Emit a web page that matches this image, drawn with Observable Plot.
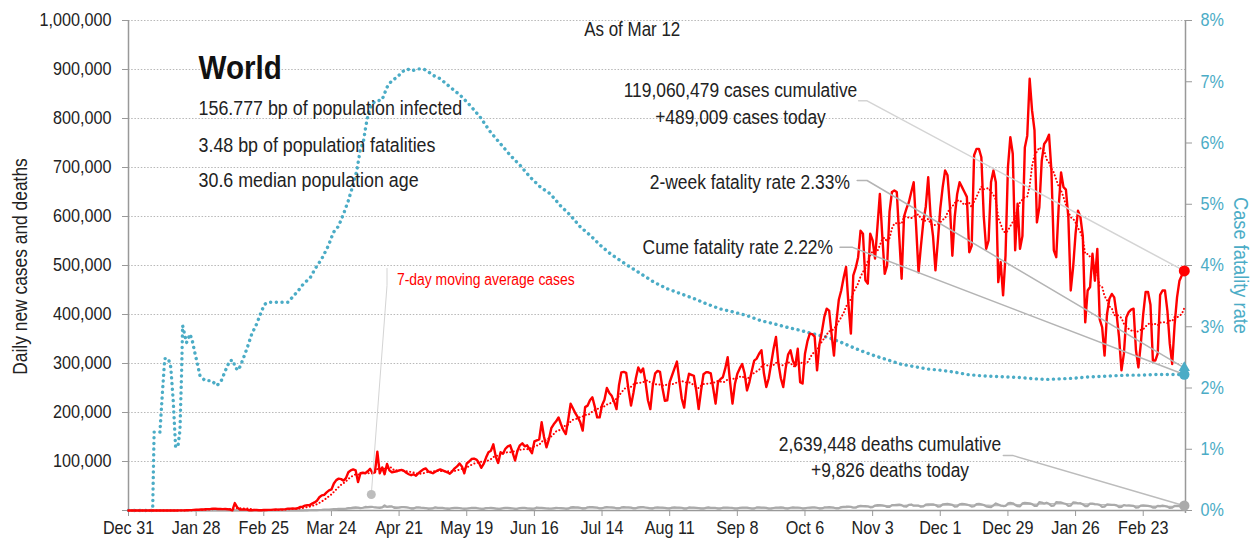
<!DOCTYPE html>
<html><head><meta charset="utf-8">
<script src="https://cdn.jsdelivr.net/npm/d3@7"></script>
<script src="https://cdn.jsdelivr.net/npm/@observablehq/plot@0.6"></script>
<style>
html,body{margin:0;padding:0;background:#fff;}
#chart svg{display:block;}
</style></head><body><div id="chart"></div>
<script>
const FONT = '"Liberation Sans",Arial,sans-serif';
const RED = "#ff0000", BLUE = "#4bacc6", GRAY = "#aaaaaa", AXIS = "#999999";

// first day of the series and the "as of" day
const startDay = "2019-12-31";
const endDay = "2021-03-12";

// daily new cases, thousands, one value per day from Dec 31 2019
const dailyCasesK = [
0.03,0,0,0.02,0,0.02,0,0,0,0,
0,0,0,0,0,0,0,0,0,0.1,
0.1,0.2,0.3,0.3,0.5,0.7,0.8,1.3,1.7,1.5,
2.0,2.1,2.6,2.8,3.2,3.9,3.7,3.2,3.4,2.7,
3.0,2.5,2.0,0.4,15.1,6.5,2.1,2.0,1.9,1.8,
0.5,0.6,1.0,1.0,0.4,0.6,0.9,0.9,1.2,1.3,
1.7,1.9,1.8,2.4,2.2,2.8,3.9,3.9,4.0,3.8,
4.5,7.2,7.5,10.0,10.8,11.0,14.0,16.5,20.0,27.0,
31,32,37,41,43,55,62,65,64,61,
66,78,82,84,82,58,76,77,76,80,
85,76,78,120,76,88,74,95,82,78,
79,80,82,83,81,77,74,72,74,71,
76,80,84,86,80,78,76,79,82,84,
82,80,78,75,80,86,90,96,90,76,
96,100,105,106,104,98,87,95,108,119,
122,135,110,97,119,116,126,131,133,118,
102,122,133,137,131,133,125,117,141,143,
145,180,150,129,145,168,176,182,190,176,
164,156,185,218,208,198,190,180,163,211,
214,225,231,212,190,190,215,226,250,240,
234,222,207,255,282,283,281,245,214,240,
270,292,282,290,262,225,207,255,280,285,
283,250,224,225,262,276,290,304,265,228,
210,255,279,277,275,245,207,245,278,282,
282,280,250,218,262,268,272,290,313,262,
218,258,279,290,299,280,245,262,285,306,
310,320,327,280,252,270,300,330,354,300,
270,252,290,318,327,305,295,330,262,259,
320,345,361,360,355,286,340,365,395,412,
408,360,316,385,430,449,475,497,420,361,
480,495,517,571,565,470,463,565,551,514,
580,646,560,483,500,610,650,653,650,560,
473,600,616,629,650,670,580,486,540,590,
620,680,600,560,490,550,616,660,694,684,
620,520,600,646,670,660,650,640,527,540,
725,738,738,721,600,534,551,670,694,670,
466,507,439,520,700,762,728,531,626,534,
560,741,765,881,816,776,588,619,714,748,
755,767,694,531,517,619,690,660,655,599,
449,497,565,612,599,560,384,449,456,524,
469,534,390,374,316,400,432,442,435,400,
354,286,320,394,405,410,412,327,292,340,
401,446,446,420,306,306,320,440,449,449,
408,340,299,380,435,469,480,489.009
];

// daily new deaths, thousands, one value per day from Dec 31 2019
const dailyDeathsK = [
0,0,0,0,0,0,0,0,0,0,
0,0,0,0,0,0,0,0,0,0,
0,0.02,0.03,0.04,0.05,0.06,0.05,0.08,0.03,0.1,
0.04,0.05,0.05,0.06,0.07,0.07,0.07,0.09,0.09,0.1,
0.09,0.11,0.1,0.1,0.25,0.14,0.14,0.1,0.1,0.1,
0.14,0.12,0.1,0.1,0.1,0.1,0.15,0.07,0.07,0.05,
0.05,0.06,0.06,0.06,0.07,0.08,0.1,0.1,0.1,0.2,
0.3,0.3,0.4,0.4,0.4,0.5,0.6,0.8,0.8,1.0,
1.1,1.7,1.7,1.9,2.4,2.7,3.1,3.4,3.6,3.4,
3.8,4.8,5.0,6.0,6.3,5.9,4.8,5.6,7.3,7.0,
7.3,7.2,6.2,5.6,5.4,6.4,10.5,7.4,8.4,8.5,
5.4,5.1,5.6,7.0,6.9,6.3,5.6,4.0,3.9,6.3,
6.6,5.8,5.4,5.0,3.5,3.6,4.4,6.6,5.5,5.4,
5.3,4.1,3.4,3.5,5.0,5.4,5.3,5.1,4.1,3.3,
3.6,4.6,5.2,5.3,5.2,4.0,3.1,3.1,5.0,5.1,
5.5,4.9,3.9,3.1,3.3,4.7,5.3,5.2,4.8,4.1,
3.1,3.5,5.0,5.2,5.4,4.5,4.0,3.3,3.6,6.2,
5.2,5.2,4.8,4.1,3.7,3.6,4.4,5.3,5.1,5.0,
4.4,3.5,3.7,6.2,6.8,6.2,6.3,5.5,3.9,4.3,
6.5,7.2,6.7,6.2,5.8,4.1,4.5,6.3,6.8,6.6,
6.3,6.0,4.2,4.2,6.2,6.8,6.4,6.3,5.9,4.4,
4.4,6.4,6.8,6.9,6.1,5.4,4.1,3.9,6.0,6.2,
6.0,5.8,5.4,4.2,4.0,5.8,6.2,5.9,5.7,5.6,
3.8,4.0,6.2,6.0,5.9,5.4,4.9,3.8,3.7,5.3,
6.4,5.5,5.4,5.2,3.8,3.9,5.7,6.1,5.9,5.6,
5.2,3.9,3.8,5.5,5.7,5.8,5.8,5.0,3.6,3.8,
6.4,6.2,6.0,5.8,5.3,3.6,3.8,5.0,6.1,5.9,
6.4,5.8,4.2,4.0,5.6,6.2,5.9,5.9,5.6,4.0,
4.4,5.6,6.0,6.3,6.3,5.6,4.0,4.1,6.3,6.4,
6.8,6.3,5.7,4.2,4.5,7.0,7.6,7.8,8.2,7.4,
5.6,5.7,8.6,9.6,9.2,9.1,8.5,6.5,7.0,10.1,
11.2,10.9,10.7,9.5,7.4,7.3,11.2,11.2,11.6,12.1,
10.9,8.2,8.1,11.6,12.3,9.8,10.1,9.9,7.6,8.2,
11.9,12.8,12.7,12.6,11.2,8.1,8.4,12.5,12.9,13.4,
12.5,11.6,7.8,8.4,12.8,13.6,13.2,12.1,10.7,7.9,
8.7,13.0,13.6,12.6,11.1,8.4,7.1,6.9,10.7,14.5,
12.4,10.0,9.1,9.4,14.5,15.5,14.8,11.3,8.9,8.5,
14.4,15.5,15.0,14.6,13.0,9.4,9.6,17.1,16.3,14.4,
15.9,13.6,9.4,9.7,17.2,16.7,16.5,14.8,13.4,9.4,
9.8,16.5,16.2,14.8,15.0,12.6,8.9,9.0,14.3,14.0,
13.0,12.8,11.5,7.2,7.9,12.3,12.1,11.4,11.4,10.4,
6.9,7.3,11.2,10.2,10.4,9.9,9.3,5.9,6.1,10.2,
10.5,10.1,9.3,8.5,5.9,6.0,9.5,9.1,9.8,9.2,
8.0,5.1,5.8,9.4,9.6,9.7,9.3,9.826
];

// cumulative case fatality rate (%), read at these day offsets from Dec 31 2019
const cfrDays = [0,10,10.6,13,14,15,16.5,17.5,18.5,19.5,20.5,21.3,22,22.4,23.2,24,25.5,26.6,27.2,28.2,29.6,31.7,34.5,36.5,38.2,40.7,42,43.4,44,45.5,46.9,49,51,53.1,55.2,56.5,58,66,70.3,72.4,75.2,77.3,80,82.8,84.8,86.9,89,91,92.9,94.5,95.9,97.3,98.3,99.3,100.7,102.8,104.9,107,109,111.1,113.2,115.2,117.3,120,122.1,124.2,126.3,129,133.2,137.3,141.5,145.6,149.8,153.9,158,162.2,166.3,170.5,174.6,178.7,182.9,187,191.2,195.3,199.5,203.6,207.8,211.9,217.4,223,228.5,234,239.5,245,250.5,256.1,261.6,267.1,272.7,278.2,283.7,289.2,294.7,298.2,303,308.5,314.1,319.6,325.1,330.7,336.2,341.7,347.2,352.7,358.2,363.8,369.3,374.8,380.4,385.9,391.4,396.9,402.4,408,413.5,419,424.5,430,437];
const cfrPct = [0,0,1.28,1.28,1.9,2.48,2.48,2.34,1.8,1.03,1.06,1.31,2.29,3.02,2.88,2.74,2.88,2.74,2.62,2.45,2.2,2.12,2.12,2.04,2.1,2.34,2.45,2.45,2.34,2.29,2.42,2.64,2.88,3.05,3.27,3.37,3.4,3.4,3.59,3.7,3.8,3.95,4.11,4.33,4.54,4.64,4.84,5.06,5.31,5.55,5.88,6.04,6.29,6.48,6.64,6.69,6.7,6.91,7.02,7.07,7.16,7.21,7.18,7.21,7.21,7.16,7.1,7.05,6.91,6.78,6.61,6.42,6.18,5.99,5.8,5.63,5.44,5.28,5.17,4.98,4.82,4.63,4.49,4.33,4.19,4.08,3.97,3.87,3.73,3.62,3.54,3.46,3.37,3.29,3.24,3.18,3.1,3.05,2.99,2.94,2.88,2.83,2.75,2.69,2.61,2.53,2.46,2.39,2.35,2.31,2.29,2.26,2.22,2.2,2.19,2.18,2.17,2.15,2.14,2.15,2.16,2.18,2.19,2.2,2.21,2.21,2.22,2.22,2.22];

const twoWeekFatalityPct = 2.33;
const cumeFatalityPct = 2.22;

// axes
const leftTicks = [0,100000,200000,300000,400000,500000,600000,700000,800000,900000,1000000];
const rightTicksPct = [0,1,2,3,4,5,6,7,8];
const xTickStepDays = 28;

// texts
const titleText = "World";
const statLines = ["156.777 bp of population infected","3.48 bp of population fatalities","30.6 median population age"];
const asOfText = "As of Mar 12";
const casesNote = "119,060,479 cases cumulative\n+489,009 cases today";
const deathsNote = "2,639,448 deaths cumulative\n+9,826 deaths today";
const twoWeekNote = "2-week fatality rate 2.33%";
const cumeNote = "Cume fatality rate 2.22%";
const maNote = "7-day moving average cases";
const leftTitle = "Daily new cases and deaths";
const rightTitle = "Case fatality rate";

// ---------- build ----------
const DAY = 864e5;
const day0 = new Date(startDay + "T00:00:00Z");
const dateOf = d => new Date(day0.getTime() + d * DAY);
const PCT = 1e6 / 8; // 8% at top of left scale

const cases = dailyCasesK.map((v, i) => ({date: dateOf(i), v: v * 1000}));
const deaths = dailyDeathsK.map((v, i) => ({date: dateOf(i), v: v * 1000}));
const ma = (arr) => arr.map((r, i) => ({date: r.date, v: d3.mean(arr.slice(Math.max(0, i - 6), i + 1), d => d.v)}));
const casesMA = ma(cases);
const deathsMA = ma(deaths);
const cfr = cfrDays.map((d, i) => ({date: dateOf(d), v: cfrPct[i] * PCT}));
const lastCase = cases[cases.length - 1];
const lastDeath = deaths[deaths.length - 1];
const lastDate = lastCase.date;
const xEnd = new Date(new Date(endDay + "T00:00:00Z").getTime() + DAY / 2);
const xTicks = d3.range(0, (lastDate - day0) / DAY + 1, xTickStepDays).map(dateOf);

const leader = (pts) => pts.map(([d, v]) => ({date: d instanceof Date ? d : dateOf(d), v}));
const casesLeader = leader([[302.2, 836000], [305.7, 836000], [lastDate, lastCase.v]]);
const twoWeekLeader = leader([[301.6, 673500], [305.7, 673500], [lastDate, twoWeekFatalityPct * PCT]]);
const cumeLeader = leader([[294.5, 537000], [299.7, 537000], [lastDate, cumeFatalityPct * PCT]]);
const deathsLeader = leader([[362.1, 112000], [366.2, 112000], [lastDate, lastDeath.v]]);
const maLeader = leader([[107, 494000], [107, 459000], [100.5, 32600]]);

const txt = (s, d, v, o = {}) => Plot.text([s], {x: () => dateOf(d), y: () => v, text: d => d, fontFamily: FONT, fill: "#222", ...o});
const fmt = d3.format(",");

// horizontal squeeze of text per group (the reference face is condensed)
const SQUEEZE = {title: 0.7, stat: 0.85, ann: 0.82, asof: 0.82, manote: 0.77, ytl: 0.9, ytr: 0.86};
const TICK_SQUEEZE = 0.87;

const chart = Plot.plot({
  width: 1251, height: 547,
  marginLeft: 128, marginRight: 66, marginTop: 20, marginBottom: 37,
  style: {fontFamily: FONT, fontSize: "18.6px", background: "#fff", color: "#222", overflow: "visible"},
  x: {type: "utc", domain: [day0, xEnd]},
  y: {domain: [0, 1e6]},
  marks: [
    Plot.ruleY(leftTicks.filter(d => d > 0), {stroke: "#b8b8b8", strokeWidth: 1, strokeDasharray: "1.5,1.7"}),
    // axis lines
    Plot.ruleX([day0], {y1: 0, y2: 1e6, stroke: AXIS, strokeWidth: 1.5}),
    Plot.ruleX([xEnd], {y1: -6000, y2: 1e6, stroke: AXIS, strokeWidth: 1.5}),
    Plot.ruleY([0], {stroke: AXIS, strokeWidth: 1.5}),
    Plot.axisX({ticks: xTicks, tickFormat: d3.utcFormat("%b %-d"), tickSize: 6, tickPadding: 4, stroke: AXIS, fill: "#222", label: null, fontSize: 18.6}),
    Plot.axisY({anchor: "left", ticks: leftTicks, tickFormat: d => d === 0 ? "" : fmt(d), tickSize: 6, tickPadding: 11, stroke: AXIS, fill: "#222", label: null, fontSize: 18.6}),
    Plot.axisY({anchor: "right", ticks: rightTicksPct.map(p => p * PCT), tickFormat: d => Math.round(d / PCT) + "%", tickSize: 6, tickPadding: 9, stroke: AXIS, fill: BLUE, label: null, fontSize: 18.6}),
    // axis titles
    Plot.text([leftTitle], {frameAnchor: "left", textAnchor: "middle", dx: -108, dy: 1, rotate: -90, fontSize: 20, fill: "#222", fontFamily: FONT, ariaLabel: "ytl"}),
    Plot.text([rightTitle], {frameAnchor: "right", textAnchor: "middle", dx: 55, dy: 0, rotate: 90, fontSize: 21, fill: BLUE, fontFamily: FONT, ariaLabel: "ytr"}),
    // series
    Plot.line(cfr, {x: "date", y: "v", stroke: BLUE, strokeWidth: 3.4, strokeDasharray: "0.1,5.6", strokeLinecap: "round"}),
    Plot.line(deathsMA, {x: "date", y: "v", stroke: "#bdbdbd", strokeWidth: 1.5}),
    Plot.line(deaths, {x: "date", y: "v", stroke: GRAY, strokeWidth: 2.2, strokeLinejoin: "round"}),
    Plot.line(cases, {x: "date", y: "v", stroke: RED, strokeWidth: 2.4, strokeLinejoin: "round"}),
    Plot.line(casesMA, {x: "date", y: "v", stroke: RED, strokeWidth: 2, strokeDasharray: "0.1,3.4", strokeLinecap: "round"}),
    // leaders
    Plot.line(casesLeader, {x: "date", y: "v", stroke: "#d4d4d4", strokeWidth: 1.5}),
    Plot.line(twoWeekLeader, {x: "date", y: "v", stroke: "#b4b4b4", strokeWidth: 1.5}),
    Plot.line(cumeLeader, {x: "date", y: "v", stroke: "#b4b4b4", strokeWidth: 1.5}),
    Plot.line(deathsLeader, {x: "date", y: "v", stroke: "#bcbcbc", strokeWidth: 1.5}),
    Plot.line(maLeader, {x: "date", y: "v", stroke: "#d4d4d4", strokeWidth: 1}),
    Plot.dot([maLeader[2]], {x: "date", y: "v", r: 4.5, fill: "#bdbdbd"}),
    // end markers
    Plot.dot([{date: lastDate, v: twoWeekFatalityPct * PCT}], {x: "date", y: "v", symbol: "triangle", r: 4.2, fill: BLUE}),
    Plot.dot([{date: lastDate, v: cumeFatalityPct * PCT}], {x: "date", y: "v", r: 5.2, fill: BLUE}),
    Plot.dot([lastCase], {x: "date", y: "v", r: 5.5, fill: RED}),
    Plot.dot([lastDeath], {x: "date", y: "v", r: 5.2, fill: GRAY}),
    // texts
    txt(titleText, 29, 902000, {textAnchor: "start", fontSize: 34, fontWeight: "bold", fill: "#111", ariaLabel: "title"}),
    txt(statLines[0], 29, 820000, {textAnchor: "start", fontSize: 20.5, ariaLabel: "stat"}),
    txt(statLines[1], 29, 746000, {textAnchor: "start", fontSize: 20.5, ariaLabel: "stat"}),
    txt(statLines[2], 29, 673000, {textAnchor: "start", fontSize: 20.5, ariaLabel: "stat"}),
    txt(asOfText, 208.5, 981000, {fontSize: 19.5, ariaLabel: "asof"}),
    txt(casesNote, 253.3, 833500, {fontSize: 20, lineHeight: 1.35, ariaLabel: "ann"}),
    txt(twoWeekNote, 298.6, 670000, {textAnchor: "end", fontSize: 20, ariaLabel: "ann"}),
    txt(cumeNote, 291.6, 537000, {textAnchor: "end", fontSize: 20, ariaLabel: "ann"}),
    txt(deathsNote, 315.2, 112000, {fontSize: 20, lineHeight: 1.3, ariaLabel: "ann"}),
    txt(maNote, 111.1, 471000, {textAnchor: "start", fontSize: 16, fill: RED, ariaLabel: "manote"})
  ]
});

chart.querySelectorAll("text").forEach(t => {
  const g = t.closest("g[aria-label]");
  const lab = g ? g.getAttribute("aria-label") : "";
  const s = SQUEEZE[lab] !== undefined ? SQUEEZE[lab] : TICK_SQUEEZE;
  const x = +t.getAttribute("x") || 0, y = +t.getAttribute("y") || 0;
  const tr = t.getAttribute("transform") || "";
  t.setAttribute("transform", `${tr} translate(${x},${y}) scale(${s},1) translate(${-x},${-y})`);
});
document.getElementById("chart").appendChild(chart);
</script>
</body></html>
